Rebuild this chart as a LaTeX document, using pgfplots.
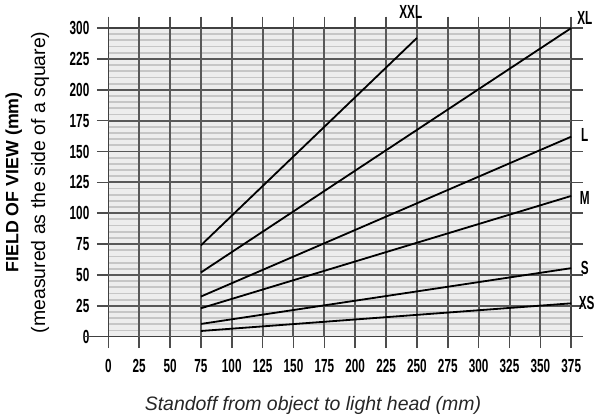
\documentclass[border=0pt]{standalone}
\usepackage{fontspec}
\setmainfont{Liberation Sans}
\newfontfamily\cond[FakeStretch=0.62]{Liberation Sans}
\usepackage{pgfplots}
\pgfplotsset{compat=1.18}
\begin{document}
\begin{tikzpicture}
\begin{axis}[
	at={(0,0)}, anchor=south west,
	scale only axis,
	width=280.8pt, height=187.2pt,
	xmin=0, xmax=375, ymin=0, ymax=250,
	xtick={0,25,...,375},
	ytick={0,25,...,250},
	yticklabels={0,25,50,75,100,125,150,175,200,225,300},
	minor y tick num=4,
	tick align=outside,
	major tick length=7pt,
	minor tick length=0pt,
	tick style={black!70, line width=1pt},
	/pgf/number format/assume math mode=true,
	ticklabel style={font=\cond\bfseries\fontsize{11.5}{12}\selectfont},
	xticklabel style={yshift=-3pt},
	yticklabel style={xshift=-1pt},
	axis background/.style={fill=gray!14},
	ymajorgrids=false, xmajorgrids=false,
	yminorgrids=true,
	minor grid style={gray!45, line width=1.1pt},
	axis line style={black!75, line width=1pt},
	clip=false,
	xlabel={Standoff from object to light head (mm)},
	xlabel style={at={(axis description cs:0.442,-0.222)}, anchor=center,
		font=\itshape\fontsize{11.8}{13}\selectfont, black!85},
	ylabel={{\bfseries\fontsize{10.8}{12}\selectfont FIELD OF VIEW (mm)}\\(measured as the side of a square)},
	ylabel style={at={(axis description cs:-0.175,0.5)}, anchor=center,
		align=center, font=\fontsize{11.8}{16.2}\selectfont},
]
% major grid, drawn line by line
\foreach \gx in {25,50,...,350}
	{\edef\tmp{\noexpand\draw[black!65, line width=1.2pt] (axis cs:\gx,0) -- (axis cs:\gx,250);}\tmp}
\foreach \gy in {25,50,...,225}
	{\edef\tmp{\noexpand\draw[black!65, line width=1.2pt] (axis cs:0,\gy) -- (axis cs:375,\gy);}\tmp}
\draw[black!75, line width=1pt] (axis cs:-20,0) -- (axis cs:0,0);
\addplot[black, line width=1.1pt] coordinates {(75,74) (250,242)};
\addplot[black, line width=1.1pt] coordinates {(75,52) (375,250)};
\addplot[black, line width=1.1pt] coordinates {(75,32.5) (375,162)};
\addplot[black, line width=1.1pt] coordinates {(75,23) (375,114)};
\addplot[black, line width=1.1pt] coordinates {(75,10.3) (375,55.5)};
\addplot[black, line width=1.1pt] coordinates {(75,4.6) (375,27)};
\begin{scope}[every node/.style={font=\cond\bfseries\fontsize{11.5}{12}\selectfont}]
\node at (axis cs:245,263) {XXL};
\node at (axis cs:386,258) {XL};
\node at (axis cs:386,163.5) {L};
\node at (axis cs:386,112) {M};
\node at (axis cs:386,55.7) {S};
\node at (axis cs:387.5,27) {XS};
\end{scope}
\end{axis}
\path (-64.8pt,-48.6pt) rectangle (295.2pt,202.2pt);
\end{tikzpicture}
\end{document}
